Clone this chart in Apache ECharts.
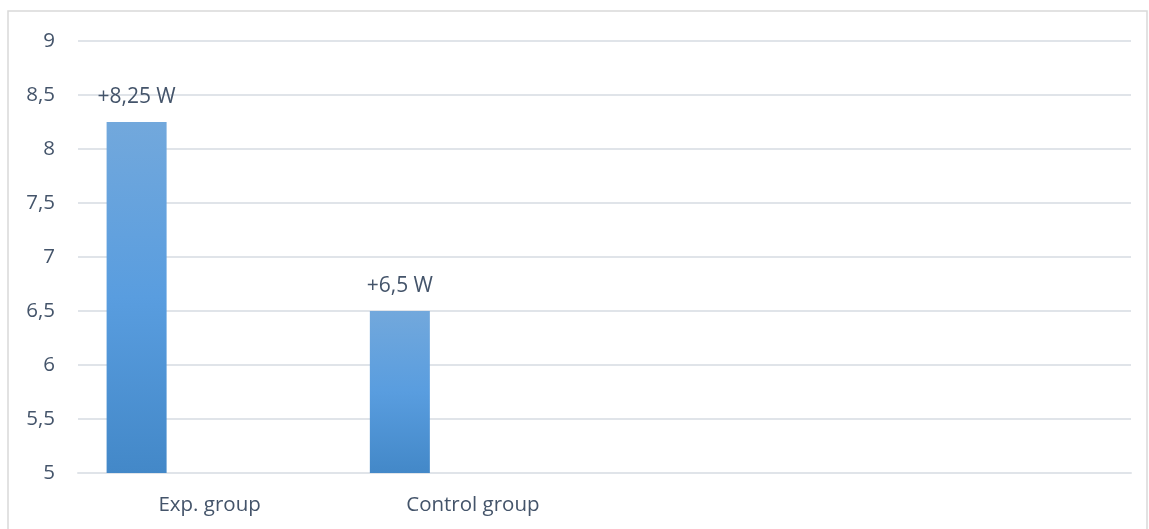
<!DOCTYPE html>
<html>
<head>
<meta charset="utf-8">
<script src="https://cdn.jsdelivr.net/npm/echarts@6/dist/echarts.min.js"></script>
<style>
  html, body { margin: 0; padding: 0; background: #fff; }
  #chart { width: 1149px; height: 529px; }
</style>
</head>
<body>
<div id="chart"></div>
<script>
// Power gain per group (W)
const categories = ['Exp. group', 'Control group', '', ''];
const gainValues = [8.25, 6.5, null, null];
const emptyValues = [null, null, null, null];
const yTicks = { min: 5, max: 9, interval: 0.5 };

const textColor = '#44546A';
const gridColor = '#e0e4e9';
const fontFamily = '"Open Sans", "Noto Sans", sans-serif';

const barGradient = new echarts.graphic.LinearGradient(0, 0, 0, 1, [
  { offset: 0, color: '#72a8dc' },
  { offset: 0.5, color: '#599ddf' },
  { offset: 1, color: '#4388c8' }
]);

const chart = echarts.init(document.getElementById('chart'), null, { renderer: 'canvas' });

chart.setOption({
  animation: false,
  backgroundColor: '#ffffff',
  textStyle: { fontFamily: fontFamily },
  graphic: [{
    type: 'rect',
    shape: { x: 8, y: 11, width: 1139, height: 540 },
    style: { fill: 'none', stroke: '#d9d9d9', lineWidth: 1.5 },
    silent: true
  }],
  grid: { left: 78, right: 18, top: 41, bottom: 56 },
  xAxis: {
    type: 'category',
    data: categories,
    axisTick: { show: false },
    axisLine: { show: true, lineStyle: { color: gridColor, width: 2 } },
    axisLabel: { color: textColor, fontSize: 20.5, margin: 22, fontFamily: fontFamily }
  },
  yAxis: {
    type: 'value',
    min: yTicks.min,
    max: yTicks.max,
    interval: yTicks.interval,
    axisLine: { show: false },
    axisTick: { show: false },
    splitLine: { lineStyle: { color: gridColor, width: 2 } },
    axisLabel: {
      color: textColor,
      fontSize: 20.5,
      margin: 23,
      fontFamily: fontFamily,
      formatter: v => String(v).replace('.', ',')
    }
  },
  series: [
    {
      type: 'bar',
      data: gainValues,
      barWidth: 60,
      barGap: '21.7%',
      itemStyle: { color: barGradient },
      label: {
        show: true,
        position: 'top',
        distance: 14,
        color: textColor,
        fontSize: 21,
        fontFamily: fontFamily,
        formatter: p => '+' + String(p.value).replace('.', ',') + ' W'
      }
    },
    { type: 'bar', data: emptyValues, barWidth: 60 },
    { type: 'bar', data: emptyValues, barWidth: 60 }
  ]
});
</script>
</body>
</html>
